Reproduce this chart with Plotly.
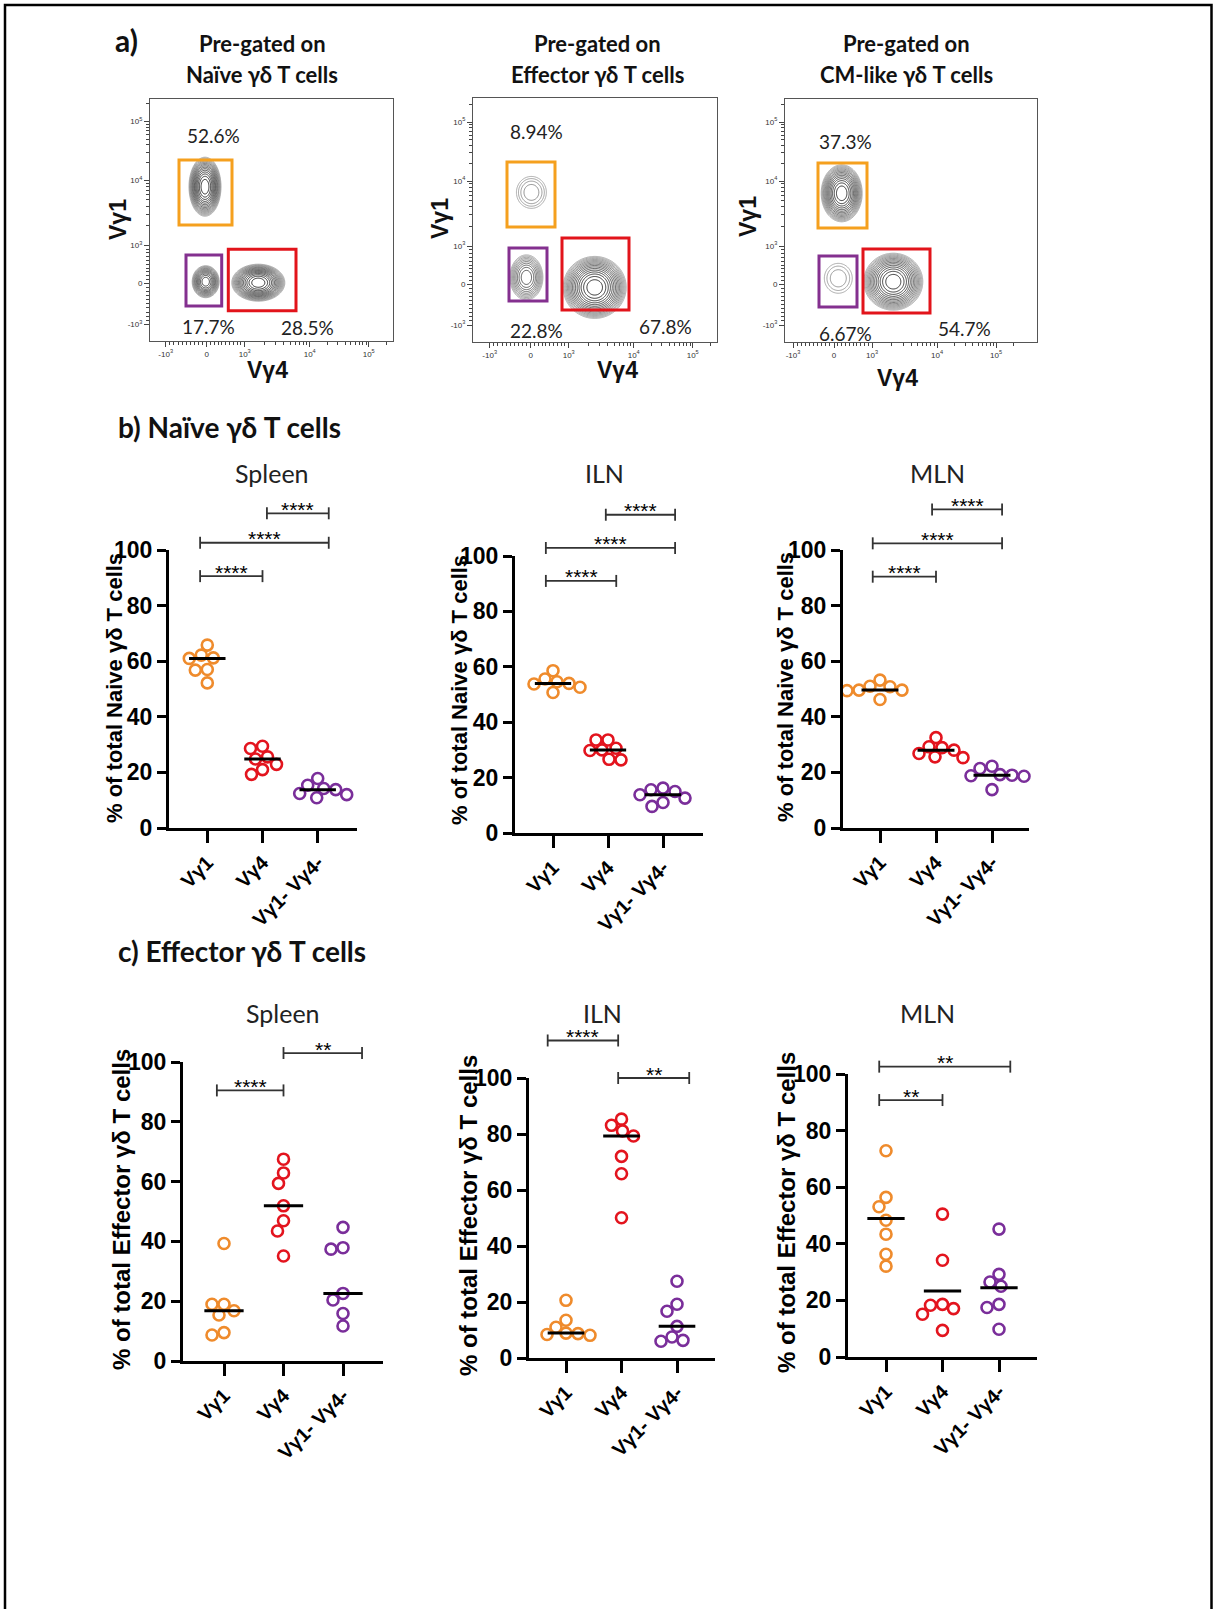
import numpy as np
import plotly.graph_objects as go

W, H = 1213, 1609

# ---------------- panel a: flow cytometry gating ----------------
FLOW_TITLE_1 = ["Pre-gated on", "Pre-gated on", "Pre-gated on"]
FLOW_TITLE_2 = ["Naïve γδ T cells", "Effector γδ T cells", "CM-like γδ T cells"]
# gate frequencies, order: Vγ1+, Vγ1-Vγ4-, Vγ4+
FLOW_PCT = [[52.6, 17.7, 28.5], [8.94, 22.8, 67.8], [37.3, 6.67, 54.7]]

# population centres / extents on the biexponential display scale
POP_CX = [[-1.7, -1.0, 51.6], [0.7, -4.3, 64.0], [7.7, 4.3, 59.3]]
POP_CY = [[96.6, 1.6, 0.6], [91.6, 6.6, -3.4], [90.7, 5.7, 2.3]]
POP_HW = [[16.0, 13.5, 26.5], [15.0, 16.5, 31.5], [20.5, 14.0, 29.5]]
POP_HH = [[29.5, 16.0, 18.5], [16.0, 22.5, 31.0], [28.5, 15.0, 28.5]]
POP_RINGS = [[16, 13, 16], [4, 10, 16], [15, 3, 15]]

# gate rectangles (display scale)
GATE_X0 = [[-27.7, -20.7, 21.6], [-23.7, -21.7, 31.3], [-16.0, -15.0, 29.0]]
GATE_X1 = [[25.3, 15.0, 89.3], [24.3, 16.3, 98.3], [33.0, 23.0, 96.0]]
GATE_Y0 = [[58.3, -22.7, -27.4], [57.0, -17.0, -26.0], [56.0, -23.0, -29.0]]
GATE_Y1 = [[123.3, 28.3, 34.0], [122.0, 36.0, 46.0], [121.0, 28.0, 35.0]]
PCT_X = [[6.6, 1.6, 100.6], [6.0, 6.0, 134.3], [11.0, 11.0, 130.0]]
PCT_Y = [[148.3, -43.4, -44.0], [152.3, -46.0, -42.7], [142.3, -49.3, -44.3]]

GATE_COLORS = ["#F5A01E", "#84308F", "#E2141B"]

FLOW_TICK_VALUES = [-1e3, 0, 1e3, 1e4, 1e5]
FLOW_TICK_TEXT = ["-10<sup>3</sup>", "0", "10<sup>3</sup>", "10<sup>4</sup>", "10<sup>5</sup>"]

# ---------------- panels b/c: per-mouse frequencies ----------------
GROUPS = ["Vγ1", "Vγ4", "Vγ1- Vγ4-"]

NAIVE_SPLEEN_VG1 = [65.8, 62.2, 61.0, 61.2, 57.0, 56.8, 52.2]
NAIVE_SPLEEN_VG4 = [29.4, 28.6, 25.6, 24.8, 22.9, 21.0, 19.3]
NAIVE_SPLEEN_DN = [17.8, 15.4, 14.2, 13.8, 12.4, 12.0, 10.9]
NAIVE_SPLEEN_CENTER = [61.0, 24.8, 13.8]

NAIVE_ILN_VG1 = [58.6, 55.6, 54.6, 54.0, 53.8, 52.6, 50.7]
NAIVE_ILN_VG4 = [33.6, 33.6, 30.6, 30.0, 29.8, 26.6, 26.4]
NAIVE_ILN_DN = [16.2, 15.6, 15.0, 13.8, 12.6, 11.0, 9.6]
NAIVE_ILN_CENTER = [54.0, 30.0, 13.8]

NAIVE_MLN_VG1 = [53.2, 51.0, 50.8, 49.6, 49.6, 49.4, 46.2]
NAIVE_MLN_VG4 = [32.5, 29.2, 28.9, 28.0, 26.8, 25.6, 25.3]
NAIVE_MLN_DN = [22.2, 21.4, 19.2, 19.0, 18.8, 18.6, 13.8]
NAIVE_MLN_CENTER = [49.6, 28.0, 19.0]

EFF_SPLEEN_VG1 = [39.3, 19.0, 19.0, 16.8, 15.4, 9.5, 8.7]
EFF_SPLEEN_VG4 = [67.5, 62.9, 59.4, 51.9, 46.9, 43.5, 35.1]
EFF_SPLEEN_DN = [44.7, 37.9, 37.4, 22.6, 20.4, 15.9, 11.7]
EFF_SPLEEN_CENTER = [16.8, 51.9, 22.6]

EFF_ILN_VG1 = [20.6, 13.5, 11.0, 8.9, 8.7, 8.4, 8.1]
EFF_ILN_VG4 = [85.3, 83.1, 81.1, 79.3, 72.0, 65.8, 50.1]
EFF_ILN_DN = [27.4, 19.2, 16.7, 11.3, 7.5, 6.3, 6.0]
EFF_ILN_CENTER = [8.9, 79.3, 11.3]

EFF_MLN_VG1 = [72.9, 56.4, 53.1, 48.3, 43.4, 36.3, 32.1]
EFF_MLN_VG4 = [50.5, 34.2, 18.6, 18.3, 17.1, 15.1, 9.4]
EFF_MLN_DN = [45.2, 29.2, 26.5, 25.0, 18.6, 17.5, 9.8]
EFF_MLN_CENTER = [48.9, 23.3, 24.5]

# significance brackets: (from, to, level, stars)
NAIVE_SPLEEN_SIG = [(-0.13, 1.0, 90.6, "****"), (-0.13, 2.2, 102.6, "****"), (1.08, 2.2, 113.2, "****")]
NAIVE_ILN_SIG = [(-0.13, 1.15, 91.0, "****"), (-0.13, 2.22, 102.9, "****"), (0.96, 2.22, 114.9, "****")]
NAIVE_MLN_SIG = [(-0.13, 1.0, 90.4, "****"), (-0.13, 2.18, 102.4, "****"), (0.93, 2.18, 114.6, "****")]
EFF_SPLEEN_SIG = [(-0.12, 1.0, 90.5, "****"), (1.0, 2.32, 103.0, "**")]
EFF_ILN_SIG = [(-0.33, 0.94, 113.4, "****"), (0.94, 2.22, 100.0, "**")]
EFF_MLN_SIG = [(-0.12, 1.0, 90.8, "**"), (-0.12, 2.2, 102.6, "**")]

DOT_COLORS = ["#EF8B2C", "#E3141E", "#7A2E9A"]

SANS = "Liberation Sans, Arial, sans-serif"
HUM = "Lato, Open Sans, sans-serif"


def px_x(px):
    return px / W


def px_y(py):
    return 1 - py / H


def label(x, y, text, font, angle=0, xanchor="center"):
    """Free text placed by pixel position on the page."""
    return dict(xref="paper", yref="paper", x=px_x(x), y=px_y(y), text=text,
                showarrow=False, textangle=angle, xanchor=xanchor, yanchor="middle", font=font)


def biex(v):
    """Approximate biexponential display transform used on the flow axes."""
    v = float(v)
    if v < 0:
        return 0.041 * v
    if v <= 1e3:
        return 0.038 * v
    if v <= 1e4:
        return 38 + 65 * np.log10(v / 1e3)
    if v <= 1e5:
        return 103 + 59 * np.log10(v / 1e4)
    return 162 + 59 * np.log10(v / 1e5)


minor_vals = [k * 100 for k in range(-9, 10) if k != 0]
minor_vals += [k * 10 ** d for d in (3, 4) for k in range(2, 10)] + [2e5]
FLOW_MINOR = [biex(v) for v in minor_vals]
FLOW_MAJOR = [biex(v) for v in FLOW_TICK_VALUES]

fig = go.Figure()
layout = {}
annotations = []
shapes = []

# plot boxes (px): left, right, top, bottom, x zero, y zero
FLOW_BOX = [(150, 393, 99, 341, 206.7, 283.3),
            (473, 717, 98, 342, 530.7, 284.0),
            (785, 1037, 99, 342, 834.0, 284.0)]
FLOW_TITLE_X = [262, 597, 906]
FLOW_YLABEL = [(118, 220), (440, 219), (748, 217)]
FLOW_XLABEL = [(267, 370), (617, 370), (897, 378)]

title_font = dict(family=HUM, size=22, color="#111", weight="bold")
flow_lab_font = dict(family=SANS, size=23, color="#111", weight="bold")

for i in range(3):
    left, right, top, bottom, x0p, y0p = FLOW_BOX[i]
    xr = [left - x0p, right - x0p]
    yr = [y0p - bottom, y0p - top]
    n = i + 1
    xs = np.linspace(xr[0], xr[1], 320)
    ys = np.linspace(yr[0], yr[1], 320)
    X, Y = np.meshgrid(xs, ys)
    Z = np.full(X.shape, -1.0)
    for p in range(3):
        r2 = ((X - POP_CX[i][p]) / POP_HW[i][p]) ** 2 + ((Y - POP_CY[i][p]) / POP_HH[i][p]) ** 2
        Z = np.maximum(Z, POP_RINGS[i][p] * (1 - r2))
    fig.add_trace(go.Contour(
        x=xs, y=ys, z=Z, xaxis=f"x{n}", yaxis=f"y{n}",
        contours=dict(coloring="lines", start=0.02, end=16, size=1),
        colorscale=[[0, "#a0a0a0"], [0.5, "#505050"], [1, "#1a1a1a"]],
        zmin=0, zmax=16, showscale=False, line=dict(width=0.9),
        hoverinfo="skip"))
    axis_common = dict(showline=True, mirror=True, linecolor="#555", linewidth=1,
                       ticks="outside", ticklen=5, tickcolor="#444", tickwidth=1,
                       tickvals=FLOW_MAJOR, ticktext=FLOW_TICK_TEXT,
                       tickfont=dict(size=8, color="#333", family=SANS),
                       minor=dict(tickvals=FLOW_MINOR, ticklen=3, tickcolor="#444",
                                  ticks="outside", tickwidth=1, showgrid=False),
                       showgrid=False, zeroline=False, automargin=False)
    layout[f"xaxis{n}"] = dict(domain=[px_x(left), px_x(right)], range=xr, anchor=f"y{n}", **axis_common)
    layout[f"yaxis{n}"] = dict(domain=[px_y(bottom), px_y(top)], range=yr, anchor=f"x{n}", **axis_common)
    for g in range(3):
        shapes.append(dict(type="rect", xref=f"x{n}", yref=f"y{n}",
                           x0=GATE_X0[i][g], x1=GATE_X1[i][g], y0=GATE_Y0[i][g], y1=GATE_Y1[i][g],
                           line=dict(color=GATE_COLORS[g], width=3)))
        annotations.append(dict(xref=f"x{n}", yref=f"y{n}", x=PCT_X[i][g], y=PCT_Y[i][g],
                                text=f"{FLOW_PCT[i][g]:.3g}%", showarrow=False,
                                xanchor="center", yanchor="middle",
                                font=dict(family=HUM, size=19, color="#222")))
    annotations.append(label(FLOW_TITLE_X[i], 43, FLOW_TITLE_1[i], title_font))
    annotations.append(label(FLOW_TITLE_X[i], 75, FLOW_TITLE_2[i], title_font))
    annotations.append(label(FLOW_YLABEL[i][0], FLOW_YLABEL[i][1], "Vγ1", flow_lab_font, angle=-90))
    annotations.append(label(FLOW_XLABEL[i][0], FLOW_XLABEL[i][1], "Vγ4", flow_lab_font))

annotations.append(label(126, 40, "a)", dict(family=HUM, size=30, color="#111", weight="bold")))

# ---------------- dot plots ----------------
PANELS = [
    dict(vals=[NAIVE_SPLEEN_VG1, NAIVE_SPLEEN_VG4, NAIVE_SPLEEN_DN], center=NAIVE_SPLEEN_CENTER,
         sig=NAIVE_SPLEEN_SIG, title="Spleen", ytitle="% of total Naive γδ T cells"),
    dict(vals=[NAIVE_ILN_VG1, NAIVE_ILN_VG4, NAIVE_ILN_DN], center=NAIVE_ILN_CENTER,
         sig=NAIVE_ILN_SIG, title="ILN", ytitle="% of total Naive γδ T cells"),
    dict(vals=[NAIVE_MLN_VG1, NAIVE_MLN_VG4, NAIVE_MLN_DN], center=NAIVE_MLN_CENTER,
         sig=NAIVE_MLN_SIG, title="MLN", ytitle="% of total Naive γδ T cells"),
    dict(vals=[EFF_SPLEEN_VG1, EFF_SPLEEN_VG4, EFF_SPLEEN_DN], center=EFF_SPLEEN_CENTER,
         sig=EFF_SPLEEN_SIG, title="Spleen", ytitle="% of total Effector γδ T cells"),
    dict(vals=[EFF_ILN_VG1, EFF_ILN_VG4, EFF_ILN_DN], center=EFF_ILN_CENTER,
         sig=EFF_ILN_SIG, title="ILN", ytitle="% of total Effector γδ T cells"),
    dict(vals=[EFF_MLN_VG1, EFF_MLN_VG4, EFF_MLN_DN], center=EFF_MLN_CENTER,
         sig=EFF_MLN_SIG, title="MLN", ytitle="% of total Effector γδ T cells"),
]
# layout in px: left, right, top (=100), bottom (=0), first category px, category step px
DOT_BOX = [(169, 357, 550, 828, 207.3, 55.2),
           (515, 703, 556, 833, 553.0, 55.0),
           (843, 1029, 550, 828, 880.0, 56.0),
           (183, 383, 1062, 1361, 224.0, 59.5),
           (529, 715, 1078, 1358, 566.0, 55.5),
           (848, 1037, 1074, 1357, 886.0, 56.5)]
DOT_TITLE_POS = [(272, 473), (604, 473), (937, 473), (283, 1013), (602, 1013), (927, 1013)]
DOT_YTITLE_POS = [(114, 688), (459, 690), (785, 687), (121, 1210), (468, 1216), (786, 1213)]
DOT_YTITLE_SIZE = [22, 22, 22, 24, 24, 24]


def swarm(values, ppx, ppy, diam=11.5):
    order = sorted(range(len(values)), key=lambda k: -values[k])
    cand = sorted(np.arange(-40.0, 40.5, 1.0), key=lambda c: (abs(c), c))
    placed, offs = [], [0.0] * len(values)
    for k in order:
        yp = values[k] * ppy
        chosen = 0.0
        for c in cand:
            if all((c - a) ** 2 + (yp - b) ** 2 >= diam ** 2 for a, b in placed):
                chosen = c
                break
        placed.append((chosen, yp))
        offs[k] = chosen / ppx
    return offs


for j, panel in enumerate(PANELS):
    n = 4 + j
    nb = 10 + j
    left, right, top, bottom, c0, step = DOT_BOX[j]
    ppy = (bottom - top) / 100.0
    xr = [(left - c0) / step, (right - c0) / step]
    layout[f"xaxis{n}"] = dict(domain=[px_x(left), px_x(right)], range=xr, anchor=f"y{n}",
                               tickvals=[0, 1, 2], ticktext=GROUPS, tickangle=-45,
                               ticks="outside", ticklen=12, tickwidth=3, tickcolor="black",
                               showline=True, linewidth=3, linecolor="black",
                               showgrid=False, zeroline=False, automargin=False,
                               tickfont=dict(family=SANS, size=20, color="black", weight="bold"))
    layout[f"yaxis{n}"] = dict(domain=[px_y(bottom), px_y(top)], range=[0, 100], anchor=f"x{n}",
                               tickvals=[0, 20, 40, 60, 80, 100],
                               ticks="outside", ticklen=9, tickwidth=3, tickcolor="black",
                               showline=True, linewidth=3, linecolor="black",
                               showgrid=False, zeroline=False, automargin=False,
                               tickfont=dict(family=SANS, size=23, color="black", weight="bold"))
    # bracket layer over the top of the value axis, same vertical scale
    below, above = 45, 95
    layout[f"yaxis{nb}"] = dict(domain=[px_y(top + below), px_y(top - above)],
                                range=[100 - below / ppy, 100 + above / ppy],
                                anchor=f"x{n}", visible=False, automargin=False)
    for g in range(3):
        vals = panel["vals"][g]
        offs = swarm(vals, step, ppy)
        fig.add_trace(go.Scatter(
            x=[g + o for o in offs], y=vals, mode="markers", xaxis=f"x{n}", yaxis=f"y{n}",
            marker=dict(symbol="circle-open", size=11, color=DOT_COLORS[g], line=dict(width=2.6)),
            cliponaxis=False, showlegend=False, hoverinfo="y"))
    cx, cy = [], []
    for g in range(3):
        cx += [g - 0.33, g + 0.33, None]
        cy += [panel["center"][g], panel["center"][g], None]
    fig.add_trace(go.Scatter(x=cx, y=cy, mode="lines", xaxis=f"x{n}", yaxis=f"y{n}",
                             line=dict(color="black", width=3), showlegend=False, hoverinfo="skip"))
    d = 6 / ppy
    bx, by = [], []
    for (a, b, lvl, stars) in panel["sig"]:
        bx += [a, a, None, a, b, None, b, b, None]
        by += [lvl - d, lvl + d, None, lvl, lvl, None, lvl - d, lvl + d, None]
        annotations.append(dict(xref=f"x{n}", yref=f"y{nb}", x=(a + b) / 2, y=lvl, yshift=4,
                                text=stars, showarrow=False, xanchor="center", yanchor="middle",
                                font=dict(family=SANS, size=21, color="black")))
    fig.add_trace(go.Scatter(x=bx, y=by, mode="lines", xaxis=f"x{n}", yaxis=f"y{nb}",
                             line=dict(color="#333", width=1.8), showlegend=False, hoverinfo="skip"))
    tx, ty = DOT_TITLE_POS[j]
    annotations.append(label(tx, ty, panel["title"], dict(family=HUM, size=25, color="#222")))
    yx, yy = DOT_YTITLE_POS[j]
    annotations.append(label(yx, yy, panel["ytitle"],
                             dict(family=SANS, size=DOT_YTITLE_SIZE[j], color="black", weight="bold"),
                             angle=-90))

section_font = dict(family=HUM, size=28, color="#111", weight="bold")
annotations.append(label(116, 427, "b) Naïve γδ T cells", section_font, xanchor="left"))
annotations.append(label(116, 951, "c) Effector γδ T cells", section_font, xanchor="left"))

# outer frame
shapes.append(dict(type="rect", xref="paper", yref="paper",
                   x0=px_x(5), x1=px_x(1211.5), y0=-0.02, y1=px_y(5),
                   line=dict(color="black", width=2.5)))

fig.update_layout(width=W, height=H,
                  margin=dict(l=0, r=0, t=0, b=0, pad=0, autoexpand=False),
                  paper_bgcolor="white", plot_bgcolor="rgba(0,0,0,0)",
                  showlegend=False, annotations=annotations, shapes=shapes, **layout)
fig.write_html("out.html")
